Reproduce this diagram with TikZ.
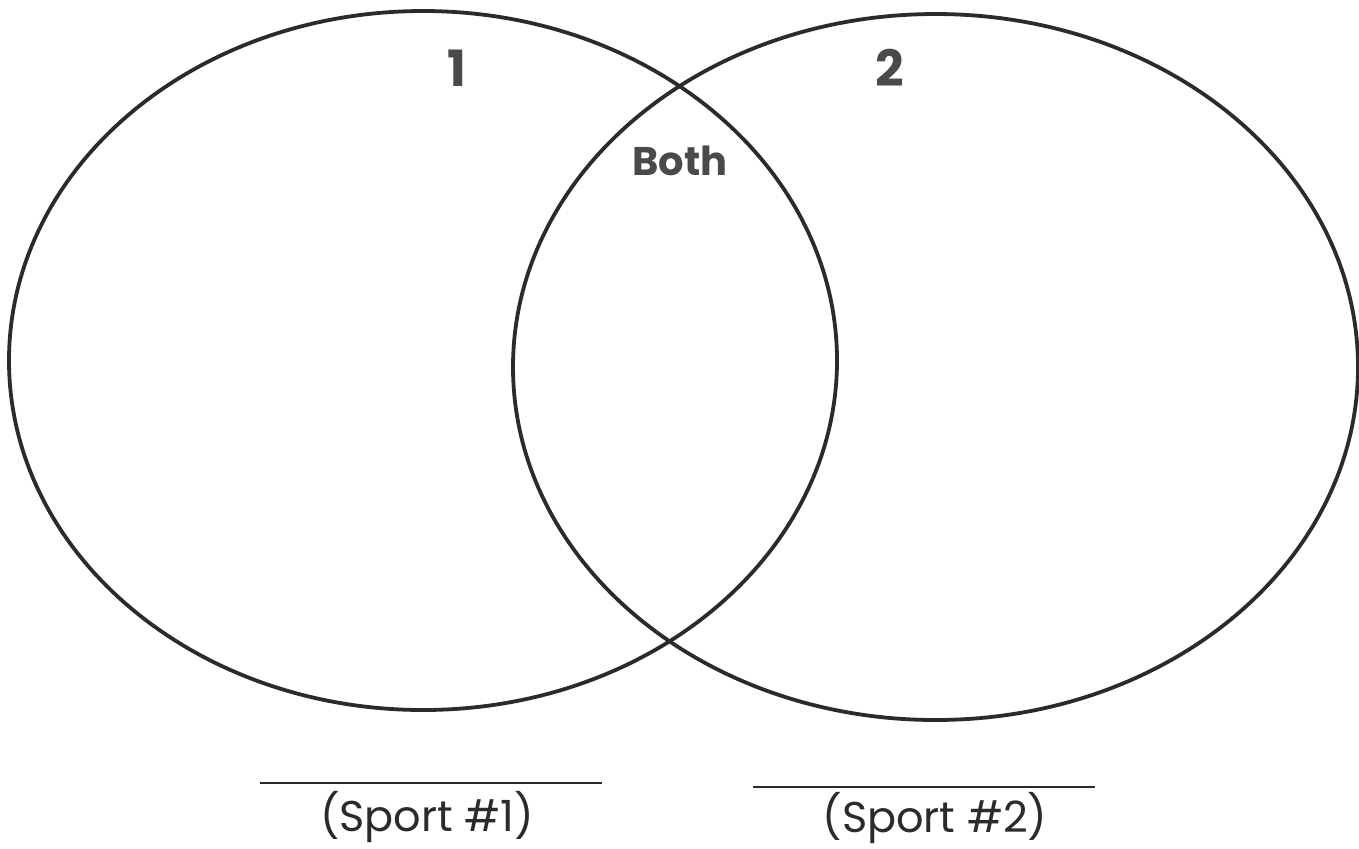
\documentclass[tikz,border=0pt]{standalone}
\usepackage{fontspec}
\setsansfont{Poppins}
\usetikzlibrary{positioning}
\definecolor{VennInk}{HTML}{2B2B2B}
\definecolor{VennFill}{HTML}{4A4A4A}

\begin{document}
\begin{tikzpicture}[x=0.5pt, y=-0.5pt, every node/.style={font=\sffamily},
  ring/.style={line width=1.9pt, VennInk},
  blank/.style={line width=1.4pt, VennInk},
  setlabel/.style={font=\sffamily\bfseries\fontsize{25}{29}\selectfont, text=VennFill},
  sportlabel/.style={font=\sffamily\fontsize{21.5}{25}\selectfont, text=VennInk,
    anchor=base, inner sep=0pt}
]
  \useasboundingbox (0,0) rectangle (1359,848);

  % The two sets
  \draw[ring] (423,360.5) ellipse [x radius=414, y radius=349.5];
  \draw[ring] (935.5,367) ellipse [x radius=422.5, y radius=353];

  % Set labels
  \node[setlabel] (one) at (457,68) {1};
  \node[setlabel] (two) at (890,68) {2};
  \node[setlabel, font=\sffamily\bfseries\fontsize{20}{24}\selectfont] (both) at (680,161) {Both};

  % Blanks for the sport names
  \draw[blank] (260,783) -- (602,783);
  \draw[blank] (753,787) -- (1095,787);
  \node[sportlabel] (sportA) at (427,831) {(Sport \#1)};
  \node[sportlabel] (sportB) at (935,832) {(Sport \#2)};
\end{tikzpicture}
\end{document}
